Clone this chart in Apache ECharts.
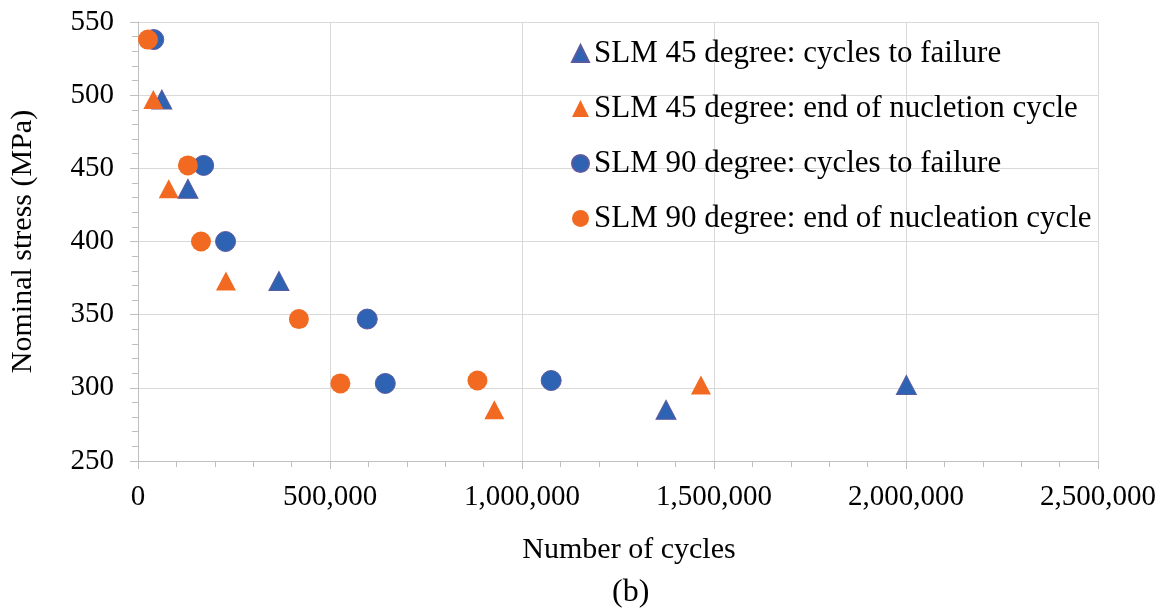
<!DOCTYPE html>
<html>
<head>
<meta charset="utf-8">
<script src="https://cdn.jsdelivr.net/npm/echarts@6/dist/echarts.min.js"></script>
<style>
html,body{margin:0;padding:0;background:#fff;}
#chart{width:1167px;height:613px;}
</style>
</head>
<body>
<div id="chart"></div>
<script>
// Data (cycles, nominal stress in MPa)
const seriesNames = [
  'SLM 45 degree: cycles to failure',
  'SLM 45 degree: end of nucletion cycle',
  'SLM 90 degree: cycles to failure',
  'SLM 90 degree: end of nucleation cycle'
];
const slm45FailCycles  = [62000, 130000, 367000, 1375000, 2001000];
const slm45FailStress  = [497, 436, 373, 285, 302];
const slm45NuclCycles  = [40000, 80000, 229000, 928000, 1466000];
const slm45NuclStress  = [497, 436, 373, 285, 302];
const slm90FailCycles  = [41000, 171000, 228000, 597000, 644000, 1076000];
const slm90FailStress  = [538, 452, 400, 347, 303, 305];
const slm90NuclCycles  = [26000, 130000, 164000, 419000, 527000, 884000];
const slm90NuclStress  = [538, 452, 400, 347, 303, 305];
const xTicks = [0, 500000, 1000000, 1500000, 2000000, 2500000];
const yTicks = [250, 300, 350, 400, 450, 500, 550];

const pair = (xs, ys) => xs.map((x, i) => [x, ys[i]]);

const BLUE = '#2e62b2';
const BLUE_BORDER = '#5b5a9e';
const ORANGE = '#f26a21';
const FONT = '"Liberation Serif", "Times New Roman", serif';

const chart = echarts.init(document.getElementById('chart'));
chart.setOption({
  animation: false,
  backgroundColor: '#fff',
  textStyle: { fontFamily: FONT, color: '#000' },
  grid: { left: 136, right: 69, top: 22, bottom: 152, containLabel: false },
  legend: {
    orient: 'vertical',
    left: 566,
    top: 33,
    itemWidth: 17,
    itemHeight: 17,
    itemGap: 24,
    textStyle: { fontFamily: FONT, fontSize: 31, color: '#000', lineHeight: 30 },
    data: seriesNames
  },
  xAxis: {
    type: 'value',
    min: xTicks[0],
    max: xTicks[xTicks.length - 1],
    interval: 500000,
    name: 'Number of cycles',
    nameLocation: 'middle',
    nameGap: 74,
    nameTextStyle: { fontFamily: FONT, fontSize: 30, color: '#000', padding: [0, 0, 0, 22] },
    axisLine: { lineStyle: { color: '#bfbfbf', width: 1 } },
    axisTick: { show: true, length: 8, lineStyle: { color: '#bfbfbf' } },
    minorTick: { show: true, splitNumber: 5, length: 6, lineStyle: { color: '#bfbfbf' } },
    axisLabel: {
      fontFamily: FONT, fontSize: 29, color: '#000', margin: 22,
      formatter: v => v.toLocaleString('en-US')
    },
    splitLine: { show: true, lineStyle: { color: '#d9d9d9', width: 1 } }
  },
  yAxis: {
    type: 'value',
    min: yTicks[0],
    max: yTicks[yTicks.length - 1],
    interval: 50,
    name: 'Nominal stress (MPa)',
    nameLocation: 'middle',
    nameGap: 100,
    nameRotate: 90,
    nameTextStyle: { fontFamily: FONT, fontSize: 30, color: '#000' },
    axisLine: { show: true, lineStyle: { color: '#bfbfbf', width: 1 } },
    axisTick: { show: true, length: 8, lineStyle: { color: '#bfbfbf' } },
    minorTick: { show: true, splitNumber: 5, length: 6, lineStyle: { color: '#bfbfbf' } },
    axisLabel: { fontFamily: FONT, fontSize: 29, color: '#000', margin: 24 },
    splitLine: { show: true, lineStyle: { color: '#d9d9d9', width: 1 } }
  },
  series: [
    {
      name: seriesNames[0], type: 'scatter', symbol: 'triangle', symbolSize: [20, 19],
      itemStyle: { color: BLUE, borderColor: BLUE_BORDER, borderWidth: 1, opacity: 1 },
      data: pair(slm45FailCycles, slm45FailStress)
    },
    {
      name: seriesNames[1], type: 'scatter', symbol: 'triangle', symbolSize: [20, 19],
      itemStyle: { color: ORANGE, opacity: 1 },
      data: pair(slm45NuclCycles, slm45NuclStress)
    },
    {
      name: seriesNames[2], type: 'scatter', symbol: 'circle', symbolSize: 20,
      itemStyle: { color: BLUE, borderColor: BLUE_BORDER, borderWidth: 1, opacity: 1 },
      data: pair(slm90FailCycles, slm90FailStress)
    },
    {
      name: seriesNames[3], type: 'scatter', symbol: 'circle', symbolSize: 20,
      itemStyle: { color: ORANGE, opacity: 1 },
      data: pair(slm90NuclCycles, slm90NuclStress)
    }
  ],
  graphic: [{
    type: 'text', left: 612, top: 577,
    style: { text: '(b)', font: '32px ' + FONT, fill: '#000' }
  }]
});
</script>
</body>
</html>
